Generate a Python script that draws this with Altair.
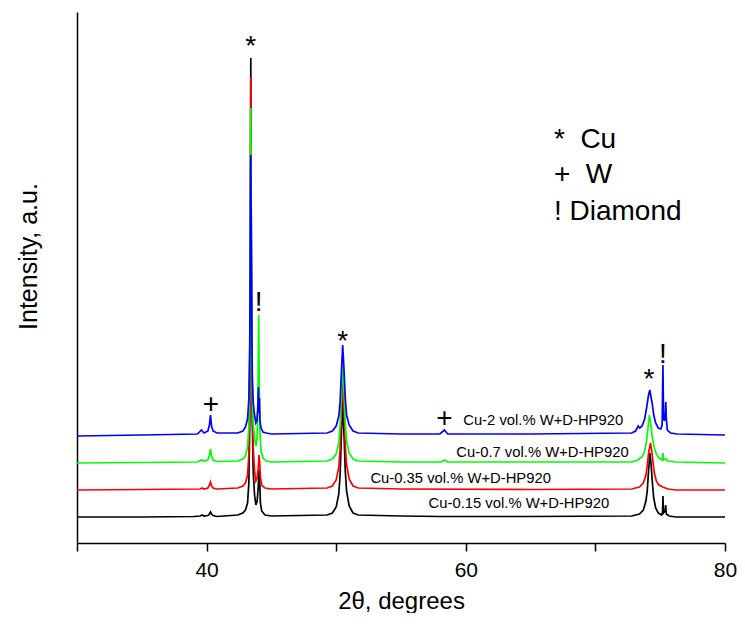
import altair as alt
import pandas as pd

# ---- data (2theta in degrees, intensity in arbitrary units) ----
black_x = [30, 35.0, 39.0, 39.5, 39.65, 39.8, 40.1, 40.22, 40.3, 40.38, 40.5, 40.8,
           42.4, 42.8, 43.0, 43.16, 43.26, 43.33, 43.37, 43.41, 43.45, 43.49, 43.53, 43.6, 43.7,
           43.8, 43.9, 43.98, 44.05, 44.1, 44.15, 44.25, 44.5, 45.0,
           49.3, 49.7, 50.0, 50.2, 50.3, 50.4, 50.5, 50.6, 50.7, 50.8, 51.0, 51.3, 51.7,
           55.0, 58.0, 65.0,
           72.8, 73.4, 73.7, 73.9, 74.0, 74.1, 74.21, 74.3, 74.4, 74.5, 74.65, 74.85, 75.1,
           75.18, 75.21, 75.25, 75.38, 75.42, 75.47, 75.7, 76.2, 80]
black_y = [26, 26, 26.5, 27, 28, 27, 27.5, 29, 31, 29, 27.5, 26.5,
           28, 30, 33, 40, 60, 120, 260, 485, 280, 170, 120, 70, 48,
           38, 42, 55, 73, 62, 40, 32, 28, 27,
           28, 30, 36, 49, 68, 107, 143, 110, 72, 52, 37, 30, 28,
           27, 26.5, 26.5,
           27, 29, 33, 42, 52, 72, 90, 78, 60, 45, 35, 30, 28,
           30, 47, 30, 32, 38, 29, 27, 26, 26]

red_x = [30, 35.0, 39.5, 39.65, 39.8, 40.1, 40.22, 40.3, 40.38, 40.5, 40.8,
         42.4, 42.8, 43.0, 43.16, 43.26, 43.33, 43.37, 43.41, 43.45, 43.49, 43.53, 43.6, 43.7,
         43.8, 43.9, 43.98, 44.05, 44.1, 44.15, 44.25, 44.5, 45.0,
         49.3, 49.7, 50.0, 50.2, 50.3, 50.4, 50.5, 50.6, 50.7, 50.8, 51.0, 51.3, 51.7,
         55.0, 65.0,
         72.8, 73.4, 73.7, 73.9, 74.0, 74.1, 74.25, 74.35, 74.45, 74.55, 74.7, 74.9, 75.2,
         75.6, 76.2, 80]
red_y = [53, 53.5, 54, 55, 54, 55, 58, 61, 57, 55, 54,
         55, 57, 60, 68, 88, 150, 280, 466, 290, 185, 135, 95, 72,
         62, 65, 75, 88, 80, 66, 58, 55, 54,
         55, 57, 63, 76, 94, 131, 166, 134, 98, 78, 64, 57, 55,
         54, 53.5,
         54, 56, 60, 68, 77, 90, 100, 92, 80, 70, 62, 58, 56,
         54, 53, 53]

green_x = [30, 35.0, 39.3, 39.6, 39.8, 40.1, 40.22, 40.3, 40.38, 40.5, 40.8,
           42.4, 42.8, 43.0, 43.16, 43.26, 43.33, 43.37, 43.41, 43.45, 43.49, 43.53, 43.6, 43.7,
           43.8, 43.9, 43.96, 44.02, 44.07, 44.12, 44.2, 44.35, 44.6, 45.0,
           49.3, 49.7, 50.0, 50.2, 50.3, 50.4, 50.5, 50.6, 50.7, 50.8, 51.0, 51.3, 51.7,
           55.0, 58.1, 58.35, 58.6, 65.0,
           72.8, 73.3, 73.45, 73.6, 73.8, 73.95, 74.08, 74.17, 74.28, 74.4, 74.55, 74.7, 74.9,
           75.15, 75.21, 75.26, 75.42, 75.6, 76.2, 80]
green_y = [80, 80.5, 81, 83, 82, 83, 88, 94, 87, 83, 81.5,
           82, 84, 87, 96, 116, 180, 290, 435, 300, 200, 150, 120, 104,
           97, 105, 140, 228, 150, 110, 92, 85, 82, 81,
           82, 84, 89, 100, 117, 150, 181, 153, 120, 102, 90, 84, 82,
           81, 81, 83, 81, 81,
           81, 83, 85, 86, 92, 102, 118, 128, 118, 105, 95, 89, 85,
           83, 90, 83, 84, 82, 81, 80]

blue_x = [30, 35.0, 39.3, 39.6, 39.8, 40.1, 40.22, 40.3, 40.38, 40.5, 40.8,
          42.4, 42.8, 43.0, 43.16, 43.26, 43.33, 43.37, 43.41, 43.45, 43.49, 43.53, 43.6, 43.7,
          43.8, 43.88, 43.95, 44.0, 44.04, 44.08, 44.12, 44.2, 44.35, 44.6, 45.0,
          49.3, 49.7, 50.0, 50.2, 50.3, 50.4, 50.5, 50.6, 50.7, 50.8, 51.0, 51.3, 51.7,
          55.0, 58.0, 58.35, 58.6, 65.0,
          72.8, 73.1, 73.3, 73.42, 73.6, 73.8, 73.95, 74.1, 74.2, 74.3, 74.38, 74.5, 74.65, 74.85,
          75.05, 75.15, 75.21, 75.26, 75.33, 75.4, 75.43, 75.47, 75.55, 75.8, 76.3, 80]
blue_y = [107, 108, 109, 113, 110, 112, 118, 128, 117, 112, 110,
          110, 112, 116, 124, 144, 200, 290, 388, 300, 210, 165, 140, 128,
          120, 122, 135, 156, 130, 145, 122, 115, 111, 110, 109,
          110, 112, 117, 127, 141, 171, 198, 174, 145, 128, 118, 112, 110,
          109, 109, 113, 109, 109,
          110, 112, 117, 115, 117, 124, 135, 148, 153, 145, 140, 128, 120, 115,
          114, 118, 178, 125, 122, 130, 141, 125, 113, 110, 109, 108]

series_names = ["Cu-0.15 vol.% W+D-HP920", "Cu-0.35 vol.% W+D-HP920",
                "Cu-0.7 vol.% W+D-HP920", "Cu-2 vol.% W+D-HP920"]
series_colors = ["#000000", "#ff0000", "#00ff00", "#0000ff"]

# series label anchors (2theta, intensity)
label_x = [57.13, 52.64, 59.27, 59.80]
label_y = [35, 60, 86, 118]

# phase markers over the peaks
marker_text = ["*", "*", "*", "!", "!", "+", "+"]
marker_x = [43.41, 50.5, 74.13, 44.02, 75.21, 40.33, 58.35]
marker_y = [488, 193, 155, 232, 180, 130.5, 116.5]

# phase key (non-breaking spaces keep the double gaps)
key_text = ["*\u00a0\u00a0Cu", "+\u00a0\u00a0W", "!\u00a0Diamond"]
key_x = [66.8, 66.8, 66.8]
key_y = [395, 360, 323]

FONT = "Liberation Sans"

xscale = alt.Scale(domain=[30, 80], nice=False, zero=False)
yscale = alt.Scale(domain=[0, 531], nice=False, zero=False)

xaxis = alt.Axis(values=[30, 40, 50, 60, 70, 80],
                 labelExpr="datum.value % 20 == 0 ? datum.label : ''",
                 grid=False, domainColor="black", domainWidth=1.5,
                 tickColor="black", tickWidth=1.5, tickSize=8,
                 labelFont=FONT, labelFontSize=21, labelColor="black", labelPadding=8,
                 labelFlush=False, labelOverlap=False,
                 title="2θ, degrees", titleFont=FONT, titleFontSize=24,
                 titleFontWeight="normal", titleColor="black",
                 titleBaseline="alphabetic", titleY=65)
yaxis = alt.Axis(ticks=False, labels=False, grid=False,
                 domainColor="black", domainWidth=1.5,
                 title="Intensity, a.u.", titleFont=FONT, titleFontSize=25,
                 titleFontWeight="normal", titleColor="black",
                 titleAngle=270, titleAlign="center", titleBaseline="middle",
                 titleX=-49, titleY=244)

X = alt.X("x:Q", scale=xscale, axis=xaxis)
Y = alt.Y("y:Q", scale=yscale, axis=yaxis)

traces = [(black_x, black_y), (red_x, red_y), (green_x, green_y), (blue_x, blue_y)]
layers = []
for i, (xs, ys) in enumerate(traces):
    df = pd.DataFrame({"x": xs, "y": ys})
    layers.append(
        alt.Chart(df).mark_line(color=series_colors[i], strokeWidth=1.7)
        .encode(x=X, y=Y, order=alt.Order("x:Q"))
    )

lab_df = pd.DataFrame({"t": series_names, "x": label_x, "y": label_y})
layers.append(
    alt.Chart(lab_df).mark_text(align="left", baseline="alphabetic", font=FONT,
                                fontSize=14.8, color="black")
    .encode(x=X, y=Y, text="t:N")
)

mk_df = pd.DataFrame({"t": marker_text, "x": marker_x, "y": marker_y})
layers.append(
    alt.Chart(mk_df).mark_text(align="center", baseline="alphabetic", font=FONT,
                               fontSize=28, color="black")
    .encode(x=X, y=Y, text="t:N")
)

key_df = pd.DataFrame({"t": key_text, "x": key_x, "y": key_y})
layers.append(
    alt.Chart(key_df).mark_text(align="left", baseline="alphabetic", font=FONT,
                                fontSize=28, color="black")
    .encode(x=X, y=Y, text="t:N")
)

chart = alt.layer(*layers).properties(
    width=648, height=531,
    autosize=alt.AutoSizeParams(type="none"),
    padding={"left": 69, "top": 4, "right": 12, "bottom": 70},
    background="white",
).configure_view(stroke=None)

chart.save("out.html", embed_options={"renderer": "svg", "actions": False})
